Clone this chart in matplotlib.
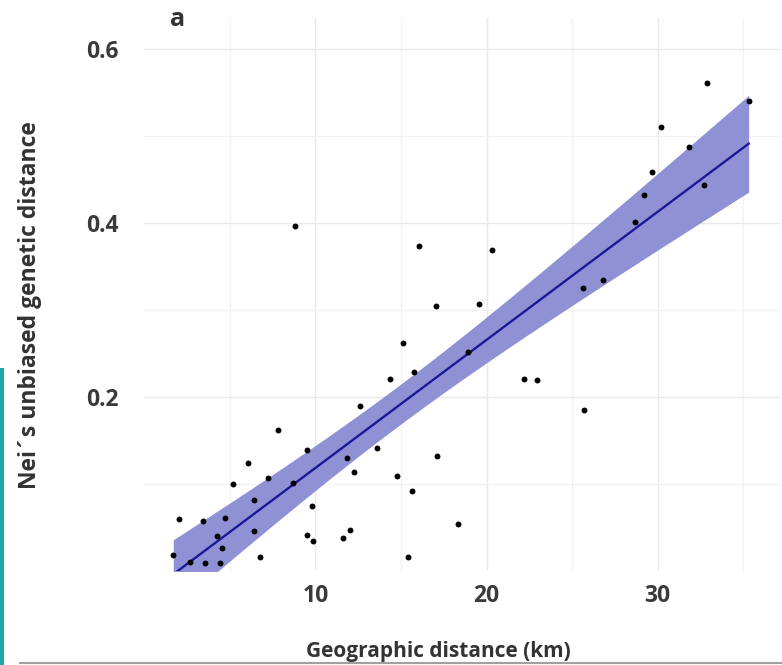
import numpy as np
import matplotlib
matplotlib.use("Agg")
import matplotlib.pyplot as plt
from matplotlib.patches import Rectangle
from matplotlib.lines import Line2D

# Pairwise geographic distance (km) and Nei's unbiased genetic distance
geo_km = [1.69, 2.04, 2.67, 3.44, 3.54, 4.23, 4.42, 4.52, 4.71, 5.20,
          6.07, 6.41, 6.42, 6.76, 7.24, 7.83, 8.67, 8.80, 9.49, 9.52,
          9.81, 9.87, 11.59, 11.86, 12.02, 12.27, 12.60, 13.58, 14.35, 14.75,
          15.13, 15.39, 15.66, 15.76, 16.07, 17.04, 17.08, 18.31, 18.93, 19.56,
          20.33, 22.20, 22.93, 25.71, 25.65, 26.82, 28.67, 29.22, 29.68, 30.18,
          31.83, 32.71, 32.86, 35.32]
nei_dist = [0.018, 0.059, 0.010, 0.057, 0.009, 0.040, 0.009, 0.026, 0.060, 0.100,
            0.124, 0.045, 0.081, 0.015, 0.107, 0.162, 0.101, 0.397, 0.139, 0.041,
            0.074, 0.034, 0.037, 0.130, 0.047, 0.113, 0.189, 0.141, 0.220, 0.109,
            0.262, 0.016, 0.091, 0.229, 0.373, 0.304, 0.132, 0.053, 0.252, 0.307,
            0.369, 0.221, 0.219, 0.185, 0.325, 0.334, 0.401, 0.432, 0.459, 0.510,
            0.487, 0.444, 0.561, 0.541]

x_major = [10, 20, 30]
y_major = [0.2, 0.4, 0.6]
x_minor = [5, 15, 25, 35]
y_minor = [0.1, 0.3, 0.5]

x = np.array(geo_km)
y = np.array(nei_dist)

# Ordinary least squares fit with a 95% confidence band
n = len(x)
slope, intercept = np.polyfit(x, y, 1)
resid = y - (intercept + slope * x)
s = np.sqrt(np.sum(resid ** 2) / (n - 2))
t_crit = 2.0066  # t(0.975, df=52)
xs = np.linspace(x.min(), x.max(), 200)
fit = intercept + slope * xs
se = s * np.sqrt(1.0 / n + (xs - x.mean()) ** 2 / np.sum((x - x.mean()) ** 2))
lower = fit - t_crit * se
upper = fit + t_crit * se

W, H = 782, 665
fig = plt.figure(figsize=(W / 100, H / 100), dpi=100)
fig.patch.set_facecolor("white")

ax_l, ax_r, ax_t, ax_b = 144, 780, 18, 570.5
ax = fig.add_axes([ax_l / W, (H - ax_b) / H, (ax_r - ax_l) / W, (ax_b - ax_t) / H])

ax.set_xlim(-0.02, 37.15)
ax.set_ylim(0, 0.636)

ax.set_xticks(x_major)
ax.set_xticklabels([str(v) for v in x_major])
ax.set_yticks(y_major)
ax.set_yticklabels([f"{v:.1f}" for v in y_major])
ax.set_xticks(x_minor, minor=True)
ax.set_yticks(y_minor, minor=True)

ax.grid(which="major", color="#e9e9e9", linewidth=1.0)
ax.grid(which="minor", color="#f2f2f2", linewidth=0.9)
ax.set_axisbelow(True)
for sp in ax.spines.values():
    sp.set_visible(False)
ax.tick_params(which="both", length=0)
ax.tick_params(axis="y", pad=18.5)
ax.tick_params(axis="x", pad=10)
for lab in ax.get_xticklabels() + ax.get_yticklabels():
    lab.set_fontfamily("Open Sans")
    lab.set_fontweight("bold")
    lab.set_fontsize(16.5)
    lab.set_color("#3a3a3a")

ax.fill_between(xs, lower, upper, color="#9091d5", linewidth=0, zorder=2)
ax.plot(xs, fit, color="#1a1a96", linewidth=1.7, zorder=3)
ax.scatter(x, y, s=18, color="black", zorder=4, linewidths=0)

ax.set_xlabel("Geographic distance (km)", fontfamily="Open Sans", fontweight="bold",
              fontsize=15, color="#333333")
ax.xaxis.set_label_coords((438 - ax_l) / (ax_r - ax_l), -(641 - ax_b) / (ax_b - ax_t))
ax.set_ylabel("Nei´s unbiased genetic distance", fontfamily="Open Sans", fontweight="bold",
              fontsize=16.5, color="#333333")
ax.yaxis.set_label_coords(-(ax_l - 42) / (ax_r - ax_l), (ax_b - 305) / (ax_b - ax_t))

fig.text(178 / W, 1 - 19 / H, "a", fontfamily="Open Sans", fontweight="bold",
         fontsize=18, color="#333333", ha="center", va="center")

# Frame edges of the page
fig.add_artist(Rectangle((0, 0), 4 / W, (H - 368) / H, transform=fig.transFigure,
                         facecolor="#1aa9a6", edgecolor="none"))
fig.add_artist(Line2D([20 / W, 1], [2.5 / H, 2.5 / H], transform=fig.transFigure,
                      color="#a0a0a0", linewidth=1.5))

fig.savefig("out.png", dpi=100)
